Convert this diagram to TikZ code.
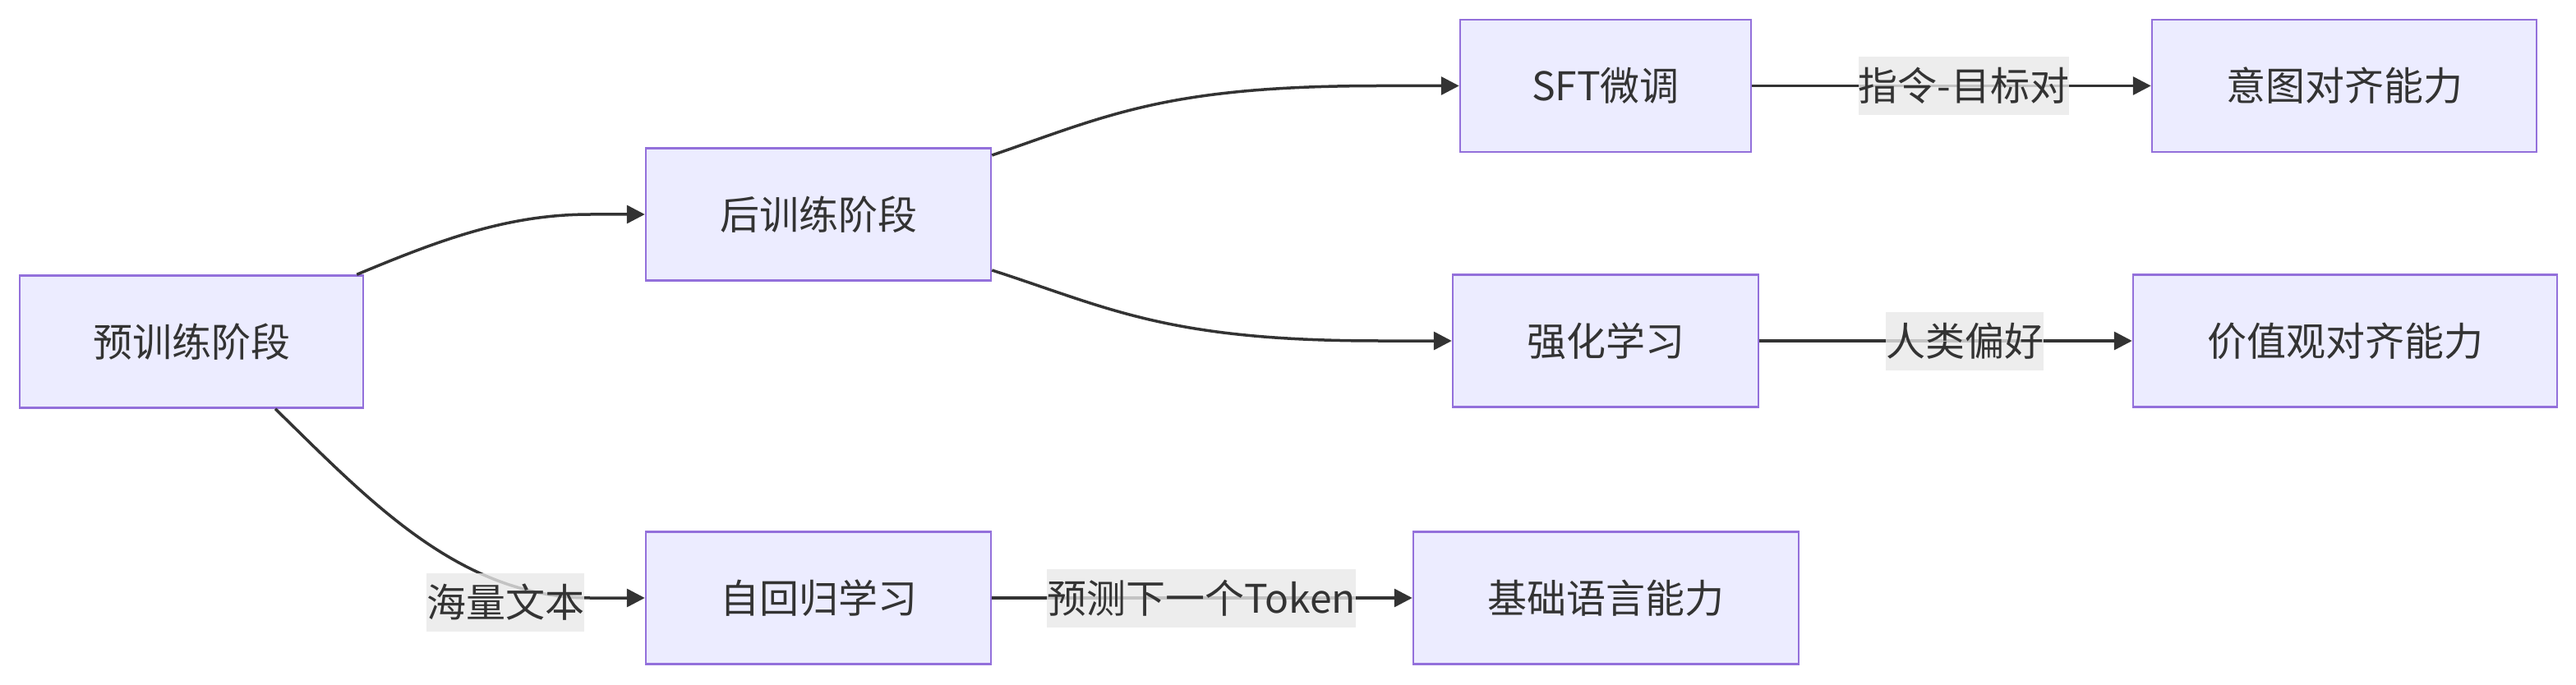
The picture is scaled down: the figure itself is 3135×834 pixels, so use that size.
\documentclass[tikz,border=0pt]{standalone}
\usepackage{fontspec}
\setmainfont{Noto Sans CJK SC}
\usetikzlibrary{arrows.meta}
\definecolor{nodefill}{HTML}{ECECFF}
\definecolor{nodeline}{HTML}{9370DB}
\definecolor{edgecol}{HTML}{333333}
\definecolor{lblfill}{HTML}{E8E8E8}
\begin{document}
\begin{tikzpicture}[x=1pt,y=-1pt,
  box/.style={draw=nodeline, fill=nodefill, line width=2.5pt, minimum height=161pt,
    inner sep=0pt, text=edgecol, font=\fontsize{48}{58}\selectfont},
  edge/.style={draw=edgecol, line width=3.5pt, -{Triangle[length=22pt,width=22pt]}},
  lbl/.style={fill=lblfill, fill opacity=0.8, text opacity=1, text=edgecol,
    inner xsep=0pt, inner ysep=0pt, minimum height=71pt, font=\fontsize{48}{58}\selectfont}]
\useasboundingbox (0,0) rectangle (3135,834);
\node[box, minimum width=418pt] (pre) at (233,416) {预训练阶段};
\node[box, minimum width=420pt] (post) at (996,261) {后训练阶段};
\node[box, minimum width=354pt] (sft) at (1954,104.5) {SFT微调};
\node[box, minimum width=468pt] (intent) at (2853,104.5) {意图对齐能力};
\node[box, minimum width=372pt] (rl) at (1954,415) {强化学习};
\node[box, minimum width=516pt] (value) at (2854,415) {价值观对齐能力};
\node[box, minimum width=420pt] (ar) at (996,728) {自回归学习};
\node[box, minimum width=469pt] (base) at (1954.5,728) {基础语言能力};

\draw[edge] ([xshift=-9pt]pre.north east) .. controls (540,290) and (620,261) .. ([xshift=-66pt]post.west) -- (post.west);
\draw[edge] ([xshift=102pt]pre.south) .. controls (450,610) and (560,728) .. ([xshift=-66pt]ar.west) -- (ar.west);
\draw[edge] ([yshift=72pt]post.east) .. controls (1350,140) and (1420,104.5) .. ([xshift=-97pt]sft.west) -- (sft.west);
\draw[edge] ([yshift=-68pt]post.east) .. controls (1350,375) and (1420,415) .. ([xshift=-88pt]rl.west) -- (rl.west);
\draw[edge] (sft.east) -- (intent.west);
\draw[edge] (rl.east) -- (value.west);
\draw[edge] (ar.east) -- (base.west);

\node[lbl] (l1) at (615,733) {海量文本};
\node[lbl] (l2) at (2390,104.5) {指令-目标对};
\node[lbl] (l3) at (2391,415) {人类偏好};
\node[lbl] (l4) at (1462,728) {预测下一个Token};
\end{tikzpicture}
\end{document}
